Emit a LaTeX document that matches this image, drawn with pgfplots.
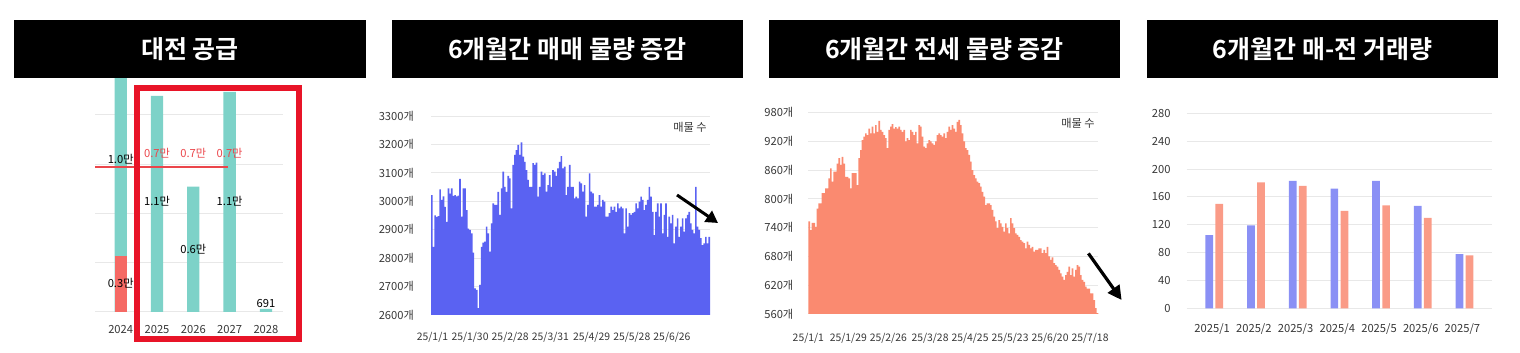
\documentclass[border=0pt]{standalone}
\usepackage{pgfplots}
\pgfplotsset{compat=1.18}
\usepackage{pgfplotstable}
\usepackage{fontspec}
\setmainfont{Noto Sans CJK KR}[BoldFont={Noto Sans CJK KR Bold}]
\usetikzlibrary{arrows.meta}

\definecolor{teal1}{RGB}{125,210,200}
\definecolor{supred}{RGB}{245,105,100}
\definecolor{boxred}{RGB}{232,20,40}
\definecolor{avgred}{RGB}{235,70,75}
\definecolor{saleblue}{RGB}{90,98,242}
\definecolor{jeonse}{RGB}{250,138,112}
\definecolor{bfour}{RGB}{138,144,245}
\definecolor{rfour}{RGB}{250,155,135}
\definecolor{gridc}{RGB}{232,232,232}
\definecolor{tickc}{RGB}{55,55,55}

\pgfplotstableread{
y
3022
2840
2950
2945
2948
3042
3005
3017
2980
2928
3045
3027
3045
3019
3022
3017
3020
3079
2946
3045
3045
2969
2904
2899
2887
2819
2694
2688
2624
2706
2840
2855
2858
2911
2887
2823
2922
2993
2987
2987
3033
2952
3045
3104
3051
3033
3089
3081
2975
3128
3163
3180
3198
3163
3207
3157
3139
3110
3075
3051
3051
3134
3128
3136
3016
3051
3104
3092
3098
3034
3057
3092
3051
3110
3104
3089
3116
3139
3159
3116
3122
3022
3051
3128
3051
3051
3010
3016
3010
3069
3063
3034
3057
2946
2987
3098
3034
3028
2981
2981
2987
3022
2981
3005
2999
2946
2946
2958
2981
2969
2981
2963
2993
2975
2981
2975
2887
2975
2911
2958
2952
2958
2963
2993
2975
2999
3016
3005
2969
2987
3005
3051
3016
2963
2881
2963
2993
2946
2993
2887
2952
2993
2875
2946
2922
2952
2852
2911
2940
2875
2911
2940
2893
2940
2952
2963
2922
2899
2887
3051
2911
2899
2870
2846
2852
2875
2852
2875
}\saletable

\pgfplotstableread{
y
753
735
750
750
742
780
791
791
812
812
822
822
843
864
836
857
857
874
885
871
888
874
846
846
843
822
854
854
854
829
885
902
923
930
937
933
947
937
951
937
954
940
963
944
940
933
927
906
944
951
956
947
950
947
951
944
940
944
920
927
923
944
940
933
940
916
954
951
930
909
906
916
923
920
916
913
920
933
937
933
930
937
927
940
951
944
954
947
940
961
965
954
937
920
906
902
892
878
860
850
843
836
833
826
815
805
787
791
791
787
777
763
753
739
756
749
742
732
749
739
728
760
749
739
728
725
721
714
711
708
697
711
704
697
700
690
694
694
697
697
687
694
687
700
680
673
678
666
662
659
652
645
638
631
641
648
659
641
655
638
652
662
659
641
631
627
617
613
613
603
603
589
572
562
}\jeonsetable

\pgfplotsset{
  base/.style={
    scale only axis, anchor=north west,
    axis line style={draw=none},
    major tick length=0pt, tick style={draw=none},
    ymajorgrids, grid style={gridc, line width=0.5pt},
    /pgf/number format/assume math mode=true,
    ticklabel style={font=\fontsize{5.6}{6}\selectfont, text=tickc},
  }
}

\begin{document}
\begin{tikzpicture}
\useasboundingbox (0pt,0pt) rectangle (760pt,-176.5pt);

% ---------- Panel 1 : supply ----------
\begin{axis}[base, at={(47.5pt,-39pt)}, width=94pt, height=117pt,
  xmin=-0.708, xmax=4.47, ymin=0, ymax=11869,
  ybar, bar width=0.339, bar shift=0pt,
  xtick={0,1,2,3,4}, xticklabels={2024,2025,2026,2027,2028},
  xticklabel style={yshift=-3pt},
  ytick={0,2500,5000,7500,10000}, yticklabels={}]
\addplot[fill=teal1, draw=none] coordinates {(0,12830) (1,10960) (2,6360) (3,11160) (4,160)};
\addplot[fill=supred, draw=none] coordinates {(0,2830)};
\end{axis}
\begin{axis}[scale only axis, anchor=north west, at={(47.5pt,-39pt)}, width=94pt, height=117pt,
  xmin=-0.708, xmax=4.47, ymin=0, ymax=11869, hide axis]
\addplot[draw={rgb,255:red,235;green,70;blue,75}, line width=0.8pt, mark=none, solid] coordinates {(-0.708,7340) (2.956,7340)};
\begin{scope}[every node/.style={font=\fontsize{5.6}{6}\selectfont, inner sep=0pt}]
\node at (axis cs:0,7727) {1.0만};
\node[text=avgred] at (axis cs:1,8030) {0.7만};
\node[text=avgred] at (axis cs:2,8030) {0.7만};
\node[text=avgred] at (axis cs:3,8030) {0.7만};
\node at (axis cs:1,5606) {1.1만};
\node at (axis cs:3,5606) {1.1만};
\node at (axis cs:2,3182) {0.6만};
\node at (axis cs:0,1465) {0.3만};
\node at (axis cs:4,455) {691};
\end{scope}
\end{axis}
\draw[boxred, line width=2.85pt] (68.4pt,-43.9pt) rectangle (149.45pt,-169.6pt);

% ---------- Panel 2 : sale listings ----------
\begin{axis}[base, at={(215.5pt,-58pt)}, width=139.5pt, height=99.5pt,
  xmin=-0.5, xmax=167.5, ymin=2600, ymax=3300,
  ytick={2600,2700,2800,2900,3000,3100,3200,3300},
  yticklabels={2600개,2700개,2800개,2900개,3000개,3100개,3200개,3300개},
  yticklabel style={xshift=-5pt},
  xtick={0.4,23,47.2,71.4,96.2,120.4,144.6},
  xticklabels={25/1/1,25/1/30,25/2/28,25/3/31,25/4/29,25/5/28,25/6/26},
  xticklabel style={yshift=-5pt, font=\fontsize{5.2}{6}\selectfont}]
\addplot[ybar, bar width=1, bar shift=0pt, fill=saleblue, draw=none] table[x expr=\coordindex, y=y] {\saletable};
\end{axis}
\node[font=\fontsize{5.6}{6}\selectfont, text=tickc] at (345pt,-63.5pt) {매물 수};
\draw[line width=1.5pt, -{Triangle[length=6pt,width=6.5pt]}] (338.5pt,-97.5pt) -- (359pt,-111.5pt);

% ---------- Panel 3 : jeonse listings ----------
\begin{axis}[base, at={(404.17pt,-56.35pt)}, width=145pt, height=100.65pt,
  xmin=-0.5, xmax=173.5, ymin=560, ymax=980,
  ytick={560,620,680,740,800,860,920,980},
  yticklabels={560개,620개,680개,740개,800개,860개,920개,980개},
  yticklabel style={xshift=-4pt},
  xtick={-0.5,23.5,47.5,72.5,96.5,120.5,144.5,168.5},
  xticklabels={25/1/1,25/1/29,25/2/26,25/3/28,25/4/25,25/5/23,25/6/20,25/7/18},
  xticklabel style={yshift=-6pt, font=\fontsize{5.2}{6}\selectfont}]
\addplot[ybar, bar width=1, bar shift=0pt, fill=jeonse, draw=none] table[x expr=\coordindex, y=y] {\jeonsetable};
\end{axis}
\node[font=\fontsize{5.6}{6}\selectfont, text=tickc] at (539pt,-61.7pt) {매물 수};
\draw[line width=1.6pt, -{Triangle[length=7pt,width=7pt]}] (544.2pt,-126.7pt) -- (560.8pt,-150pt);

% ---------- Panel 4 : transactions ----------
\begin{axis}[base, at={(593.33pt,-56.67pt)}, width=152.5pt, height=97.5pt,
  xmin=-0.61, xmax=6.7, ymin=0, ymax=280,
  ytick={0,40,80,120,160,200,240,280},
  yticklabel style={xshift=-4.5pt},
  xtick={0,1,2,3,4,5,6},
  xticklabels={2025/1,2025/2,2025/3,2025/4,2025/5,2025/6,2025/7},
  xticklabel style={yshift=-4pt}]
\addplot[ybar, bar width=0.185, bar shift=-0.07, fill=bfour, draw=none]
  coordinates {(0,105) (1,119) (2,183) (3,172) (4,183) (5,147) (6,78)};
\addplot[ybar, bar width=0.185, bar shift=0.17, fill=rfour, draw=none]
  coordinates {(0,150) (1,181) (2,176) (3,140) (4,148) (5,130) (6,76)};
\end{axis}

% ---------- Title bars ----------
\begin{scope}[every node/.style={text=white, font=\bfseries\fontsize{12.5}{14}\selectfont}]
\fill[black] (7pt,-10pt) rectangle (183pt,-39pt);
\node at (95pt,-24.5pt) {대전 공급};
\fill[black] (196pt,-10pt) rectangle (371.5pt,-39pt);
\node at (283.75pt,-24.5pt) {6개월간 매매 물량 증감};
\fill[black] (384.5pt,-10pt) rectangle (560pt,-39pt);
\node at (472.25pt,-24.5pt) {6개월간 전세 물량 증감};
\fill[black] (573.5pt,-10pt) rectangle (749pt,-39pt);
\node at (661.25pt,-24.5pt) {6개월간 매-전 거래량};
\end{scope}
\end{tikzpicture}
\end{document}
